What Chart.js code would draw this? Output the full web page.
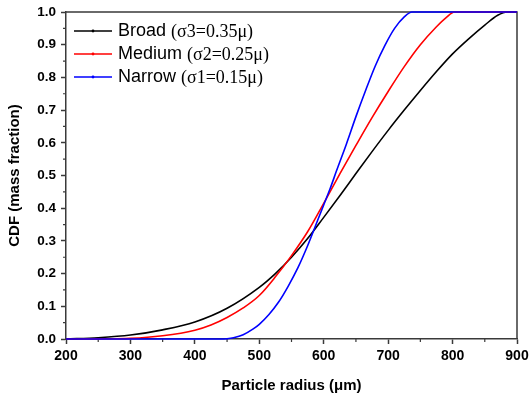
<!DOCTYPE html>
<html>
<head>
<meta charset="utf-8">
<script src="https://cdn.jsdelivr.net/npm/chart.js@4"></script>
<style>
  html, body { margin: 0; padding: 0; background: #fff; }
</style>
</head>
<body>
<canvas id="chart" width="530" height="398"></canvas>
<script>
// values
const radiusBroad = [200, 250, 300, 350, 400, 450, 500, 525, 550, 575, 600, 625, 650, 675, 700, 725, 750, 775, 800, 825, 850, 870, 885, 900];
const cdfBroad    = [0, 0.004, 0.012, 0.028, 0.052, 0.094, 0.158, 0.200, 0.250, 0.307, 0.372, 0.438, 0.506, 0.573, 0.638, 0.700, 0.760, 0.818, 0.872, 0.918, 0.960, 0.990, 1.0, 1.0];

const radiusMedium = [200, 250, 300, 350, 400, 425, 450, 475, 500, 525, 550, 575, 600, 625, 650, 675, 700, 725, 750, 775, 790, 803, 900];
const cdfMedium    = [0, 0.0005, 0.002, 0.010, 0.027, 0.043, 0.066, 0.095, 0.133, 0.190, 0.255, 0.328, 0.415, 0.505, 0.592, 0.677, 0.757, 0.833, 0.900, 0.955, 0.983, 1.0, 1.0];

const radiusNarrow = [200, 440, 450, 460, 475, 490, 500, 515, 530, 545, 560, 575, 590, 600, 610, 620, 635, 650, 665, 680, 695, 710, 725, 737, 900];
const cdfNarrow    = [0, 0, 0.001, 0.004, 0.013, 0.030, 0.045, 0.075, 0.113, 0.162, 0.218, 0.285, 0.360, 0.410, 0.460, 0.515, 0.595, 0.680, 0.760, 0.835, 0.898, 0.950, 0.985, 1.0, 1.0];

const seriesNames  = ['Broad', 'Medium', 'Narrow'];
const seriesSigmas = ['(σ3=0.35μ)', '(σ2=0.25μ)', '(σ1=0.15μ)'];
const seriesColors = ['#000000', '#ff0000', '#0000ff'];

const xTicks = [200, 300, 400, 500, 600, 700, 800, 900];
const yTicks = [0, 0.1, 0.2, 0.3, 0.4, 0.5, 0.6, 0.7, 0.8, 0.9, 1.0];

const SANS = "'Liberation Sans', Arial, sans-serif";
const SERIF = "'Liberation Serif', 'Times New Roman', serif";
const AXIS_COLOR = '#3a3a3a';

const toPoints = (xs, ys) => xs.map((x, i) => ({ x, y: ys[i] }));

// frame: top + right border and minor ticks, drawn under the curves
const framePlugin = {
  id: 'frame',
  beforeDatasetsDraw(chart) {
    const { ctx, chartArea: a } = chart;
    ctx.save();
    ctx.strokeStyle = AXIS_COLOR;
    ctx.lineWidth = 1.5;
    ctx.beginPath();
    ctx.moveTo(a.left, a.top);
    ctx.lineTo(a.right, a.top);
    ctx.lineTo(a.right, a.bottom);
    ctx.stroke();

    const xs = chart.scales.x, ys = chart.scales.y;
    ctx.lineWidth = 1.2;
    ctx.beginPath();
    for (let i = 0; i < xTicks.length - 1; i++) {
      const px = xs.getPixelForValue((xTicks[i] + xTicks[i + 1]) / 2);
      ctx.moveTo(px, a.bottom);
      ctx.lineTo(px, a.bottom + 3);
    }
    for (let i = 0; i < yTicks.length - 1; i++) {
      const py = ys.getPixelForValue((yTicks[i] + yTicks[i + 1]) / 2);
      ctx.moveTo(a.left, py);
      ctx.lineTo(a.left - 3, py);
    }
    ctx.stroke();
    ctx.restore();
  }
};

// legend with the mixed Arial / Times text of the original
const legendPlugin = {
  id: 'mixedLegend',
  afterDatasetsDraw(chart) {
    const { ctx } = chart;
    const rows = [31, 54, 77];
    ctx.save();
    seriesNames.forEach((name, i) => {
      const y = rows[i];
      ctx.strokeStyle = seriesColors[i];
      ctx.lineWidth = 1.5;
      ctx.beginPath();
      ctx.moveTo(74, y);
      ctx.lineTo(112, y);
      ctx.stroke();
      ctx.fillStyle = seriesColors[i];
      ctx.beginPath();
      ctx.arc(93, y, 1.4, 0, Math.PI * 2);
      ctx.fill();

      ctx.fillStyle = '#000';
      ctx.textBaseline = 'middle';
      ctx.font = `18px ${SANS}`;
      ctx.fillText(name + ' ', 118, y);
      const w = ctx.measureText(name + ' ').width;
      ctx.font = `18px ${SERIF}`;
      ctx.fillText(seriesSigmas[i], 118 + w, y + 1);
    });
    ctx.restore();
  }
};

const mkSet = (label, xs, ys, color, order) => ({
  label,
  data: toPoints(xs, ys),
  borderColor: color,
  backgroundColor: color,
  borderWidth: 1.6,
  pointRadius: 0,
  cubicInterpolationMode: 'monotone',
  clip: false,
  order
});

new Chart(document.getElementById('chart'), {
  type: 'line',
  data: {
    datasets: [
      mkSet(seriesNames[0], radiusBroad, cdfBroad, seriesColors[0], 3),
      mkSet(seriesNames[1], radiusMedium, cdfMedium, seriesColors[1], 2),
      mkSet(seriesNames[2], radiusNarrow, cdfNarrow, seriesColors[2], 1)
    ]
  },
  options: {
    responsive: false,
    animation: false,
    devicePixelRatio: 1,
    layout: { padding: { left: 0, top: 12, right: 13, bottom: 0 } },
    plugins: { legend: { display: false }, tooltip: { enabled: false } },
    scales: {
      x: {
        type: 'linear',
        min: xTicks[0],
        max: xTicks[xTicks.length - 1],
        afterFit: s => { s.height = 59; s.paddingLeft = 0; s.paddingRight = 0; },
        afterBuildTicks: s => { s.ticks = xTicks.map(v => ({ value: v })); },
        ticks: { font: { family: SANS, size: 14, weight: 'bold' }, color: '#000', padding: 4, maxRotation: 0 },
        grid: { drawOnChartArea: false, tickLength: 5, tickColor: AXIS_COLOR, tickWidth: 1.5 },
        border: { color: AXIS_COLOR, width: 1.5 },
        title: {
          display: true,
          text: 'Particle radius (μm)',
          font: { family: SANS, size: 15, weight: 'bold' },
          color: '#000',
          padding: { top: 0, bottom: 3 }
        }
      },
      y: {
        min: yTicks[0],
        max: yTicks[yTicks.length - 1],
        afterFit: s => { s.width = 66; s.paddingTop = 0; s.paddingBottom = 0; },
        afterBuildTicks: s => { s.ticks = yTicks.map(v => ({ value: v })); },
        ticks: {
          font: { family: SANS, size: 13.5, weight: 'bold' },
          color: '#000',
          padding: 5,
          callback: v => Number(v).toFixed(1)
        },
        grid: { drawOnChartArea: false, tickLength: 5, tickColor: AXIS_COLOR, tickWidth: 1.5 },
        border: { color: AXIS_COLOR, width: 1.5 },
        title: {
          display: true,
          text: 'CDF (mass fraction)',
          font: { family: SANS, size: 15, weight: 'bold' },
          color: '#000',
          padding: { top: 6, bottom: 0 }
        }
      }
    }
  },
  plugins: [framePlugin, legendPlugin]
});
</script>
</body>
</html>
